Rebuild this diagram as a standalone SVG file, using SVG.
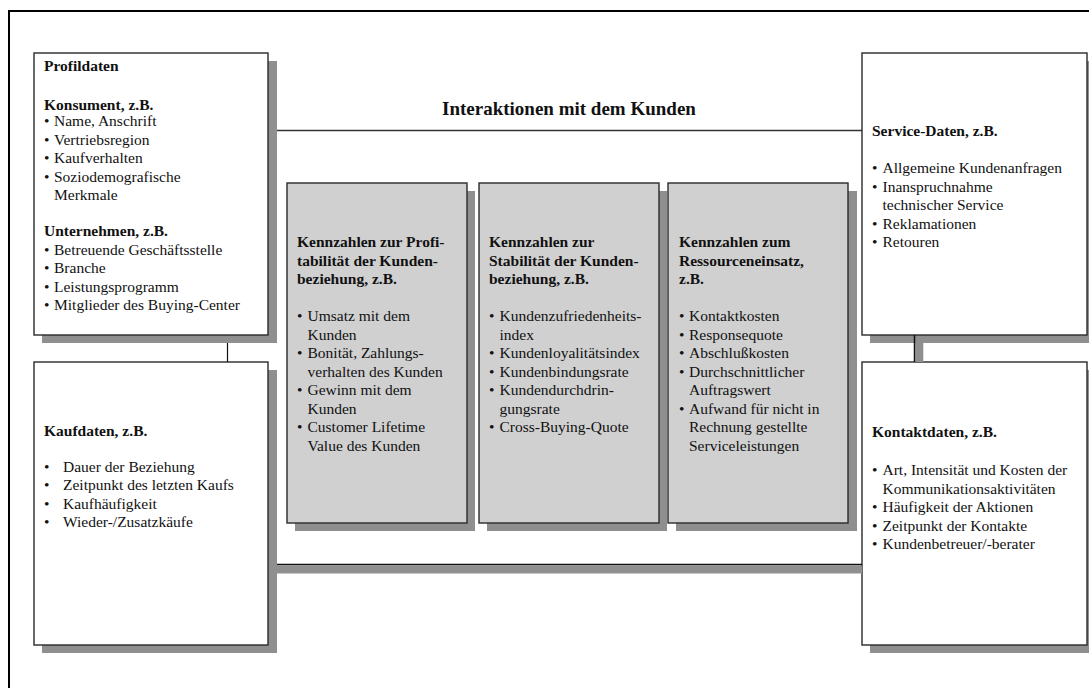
<svg xmlns="http://www.w3.org/2000/svg" width="1089" height="688" viewBox="0 0 1089 688">
  <style>
    text { font-family: "Liberation Serif", "Times New Roman", serif; font-size: 15.5px; fill: #111; }
    .h { font-weight: bold; }
    .title { font-weight: bold; font-size: 19px; }
    .box { fill: #ffffff; stroke: #2a2a2a; stroke-width: 1.4; }
    .kbox { fill: #d0d0d0; stroke: #2a2a2a; stroke-width: 1.4; }
    .shadow { fill: #8f8f8f; }
    .frame { fill: none; stroke: #000; stroke-width: 2; }
    .link { stroke: #333; stroke-width: 1.5; fill: none; }
  </style>

  <rect width="1089" height="688" fill="#ffffff"/>
  <!-- outer frame (left and top edges) -->
  <path class="frame" d="M9,690 V11 H1091"/>

  <!-- Profildaten -->
  <g id="profildaten">
    <rect class="shadow" x="42" y="61" width="235" height="282"/>
    <rect class="box" x="34" y="53" width="234" height="282"/>
    <text class="h" x="44" y="71">Profildaten</text>
    <text class="h" x="44" y="110">Konsument, z.B.</text>
    <text x="44" y="126">•</text><text x="54" y="126">Name, Anschrift</text>
    <text x="44" y="144.5">•</text><text x="54" y="144.5">Vertriebsregion</text>
    <text x="44" y="163">•</text><text x="54" y="163">Kaufverhalten</text>
    <text x="44" y="181.5">•</text><text x="54" y="181.5">Soziodemografische</text>
    <text x="54" y="200">Merkmale</text>
    <text class="h" x="44" y="236">Unternehmen, z.B.</text>
    <text x="44" y="254.5">•</text><text x="54" y="254.5">Betreuende Geschäftsstelle</text>
    <text x="44" y="273">•</text><text x="54" y="273">Branche</text>
    <text x="44" y="291.5">•</text><text x="54" y="291.5">Leistungsprogramm</text>
    <text x="44" y="310">•</text><text x="54" y="310">Mitglieder des Buying-Center</text>
  </g>

  <!-- Kaufdaten -->
  <g id="kaufdaten">
    <rect class="shadow" x="42" y="370" width="235" height="283"/>
    <rect class="box" x="34" y="362" width="234" height="283"/>
    <text class="h" x="44" y="436">Kaufdaten, z.B.</text>
    <text x="44" y="471.5">•</text><text x="63" y="471.5">Dauer der Beziehung</text>
    <text x="44" y="490">•</text><text x="63" y="490">Zeitpunkt des letzten Kaufs</text>
    <text x="44" y="508.5">•</text><text x="63" y="508.5">Kaufhäufigkeit</text>
    <text x="44" y="527">•</text><text x="63" y="527">Wieder-/Zusatzkäufe</text>
  </g>

  <!-- Kennzahlen zur Profitabilität -->
  <g id="profitabilitaet">
    <rect class="shadow" x="295" y="191" width="180" height="340"/>
    <rect class="kbox" x="287" y="183" width="180" height="340"/>
    <text class="h" x="297" y="247">Kennzahlen zur Profi-</text>
    <text class="h" x="297" y="265.5">tabilität der Kunden-</text>
    <text class="h" x="297" y="284">beziehung, z.B.</text>
    <text x="297" y="321">•</text><text x="307.5" y="321">Umsatz mit dem</text>
    <text x="307.5" y="339.5">Kunden</text>
    <text x="297" y="358">•</text><text x="307.5" y="358">Bonität, Zahlungs-</text>
    <text x="307.5" y="376.5">verhalten des Kunden</text>
    <text x="297" y="395">•</text><text x="307.5" y="395">Gewinn mit dem</text>
    <text x="307.5" y="413.5">Kunden</text>
    <text x="297" y="432">•</text><text x="307.5" y="432">Customer Lifetime</text>
    <text x="307.5" y="450.5">Value des Kunden</text>
  </g>

  <!-- Kennzahlen zur Stabilität -->
  <g id="stabilitaet">
    <rect class="shadow" x="487" y="191" width="180" height="340"/>
    <rect class="kbox" x="479" y="183" width="180" height="340"/>
    <text class="h" x="489" y="247">Kennzahlen zur</text>
    <text class="h" x="489" y="265.5">Stabilität der Kunden-</text>
    <text class="h" x="489" y="284">beziehung, z.B.</text>
    <text x="489" y="321">•</text><text x="499.5" y="321">Kundenzufriedenheits-</text>
    <text x="499.5" y="339.5">index</text>
    <text x="489" y="358">•</text><text x="499.5" y="358">Kundenloyalitätsindex</text>
    <text x="489" y="376.5">•</text><text x="499.5" y="376.5">Kundenbindungsrate</text>
    <text x="489" y="395">•</text><text x="499.5" y="395">Kundendurchdrin-</text>
    <text x="499.5" y="413.5">gungsrate</text>
    <text x="489" y="432">•</text><text x="499.5" y="432">Cross-Buying-Quote</text>
  </g>

  <!-- Kennzahlen zum Ressourceneinsatz -->
  <g id="ressourceneinsatz">
    <rect class="shadow" x="676" y="191" width="181" height="340"/>
    <rect class="kbox" x="668" y="183" width="180" height="340"/>
    <text class="h" x="679" y="247">Kennzahlen zum</text>
    <text class="h" x="679" y="265.5">Ressourceneinsatz,</text>
    <text class="h" x="679" y="284">z.B.</text>
    <text x="679" y="321">•</text><text x="689" y="321">Kontaktkosten</text>
    <text x="679" y="339.5">•</text><text x="689" y="339.5">Responsequote</text>
    <text x="679" y="358">•</text><text x="689" y="358">Abschlußkosten</text>
    <text x="679" y="376.5">•</text><text x="689" y="376.5">Durchschnittlicher</text>
    <text x="689" y="395">Auftragswert</text>
    <text x="679" y="413.5">•</text><text x="689" y="413.5">Aufwand für nicht in</text>
    <text x="689" y="432">Rechnung gestellte</text>
    <text x="689" y="450.5">Serviceleistungen</text>
  </g>

  <!-- Service-Daten -->
  <g id="service-daten">
    <rect class="shadow" x="870" y="61" width="225" height="282"/>
    <rect class="box" x="862" y="53" width="225" height="282"/>
    <text class="h" x="872" y="136">Service-Daten, z.B.</text>
    <text x="872" y="173">•</text><text x="882.5" y="173">Allgemeine Kundenanfragen</text>
    <text x="872" y="191.5">•</text><text x="882.5" y="191.5">Inanspruchnahme</text>
    <text x="882.5" y="210">technischer Service</text>
    <text x="872" y="228.5">•</text><text x="882.5" y="228.5">Reklamationen</text>
    <text x="872" y="247">•</text><text x="882.5" y="247">Retouren</text>
  </g>

  <!-- Kontaktdaten -->
  <g id="kontaktdaten">
    <rect class="shadow" x="870" y="370" width="225" height="283"/>
    <rect class="box" x="862" y="362" width="225" height="283"/>
    <text class="h" x="872" y="437">Kontaktdaten, z.B.</text>
    <text x="872" y="475">•</text><text x="882.5" y="475">Art, Intensität und Kosten der</text>
    <text x="882.5" y="493.5">Kommunikationsaktivitäten</text>
    <text x="872" y="512">•</text><text x="882.5" y="512">Häufigkeit der Aktionen</text>
    <text x="872" y="530.5">•</text><text x="882.5" y="530.5">Zeitpunkt der Kontakte</text>
    <text x="872" y="549">•</text><text x="882.5" y="549">Kundenbetreuer/-berater</text>
  </g>

  <!-- connectors -->
  <g id="connectors">
    <line class="link" x1="277" y1="130.5" x2="862" y2="130.5"/>
    <text class="title" x="569" y="115" text-anchor="middle">Interaktionen mit dem Kunden</text>
    <line x1="227.5" y1="343" x2="227.5" y2="362" stroke="#111" stroke-width="1.2"/>
    <rect class="shadow" x="277" y="565.5" width="585" height="8"/>
    <line x1="277" y1="564.5" x2="862" y2="564.5" stroke="#111" stroke-width="1.5"/>
    <rect class="shadow" x="915.3" y="343" width="8" height="19"/>
    <line x1="914.5" y1="335" x2="914.5" y2="362" stroke="#111" stroke-width="1.5"/>
  </g>
</svg>
